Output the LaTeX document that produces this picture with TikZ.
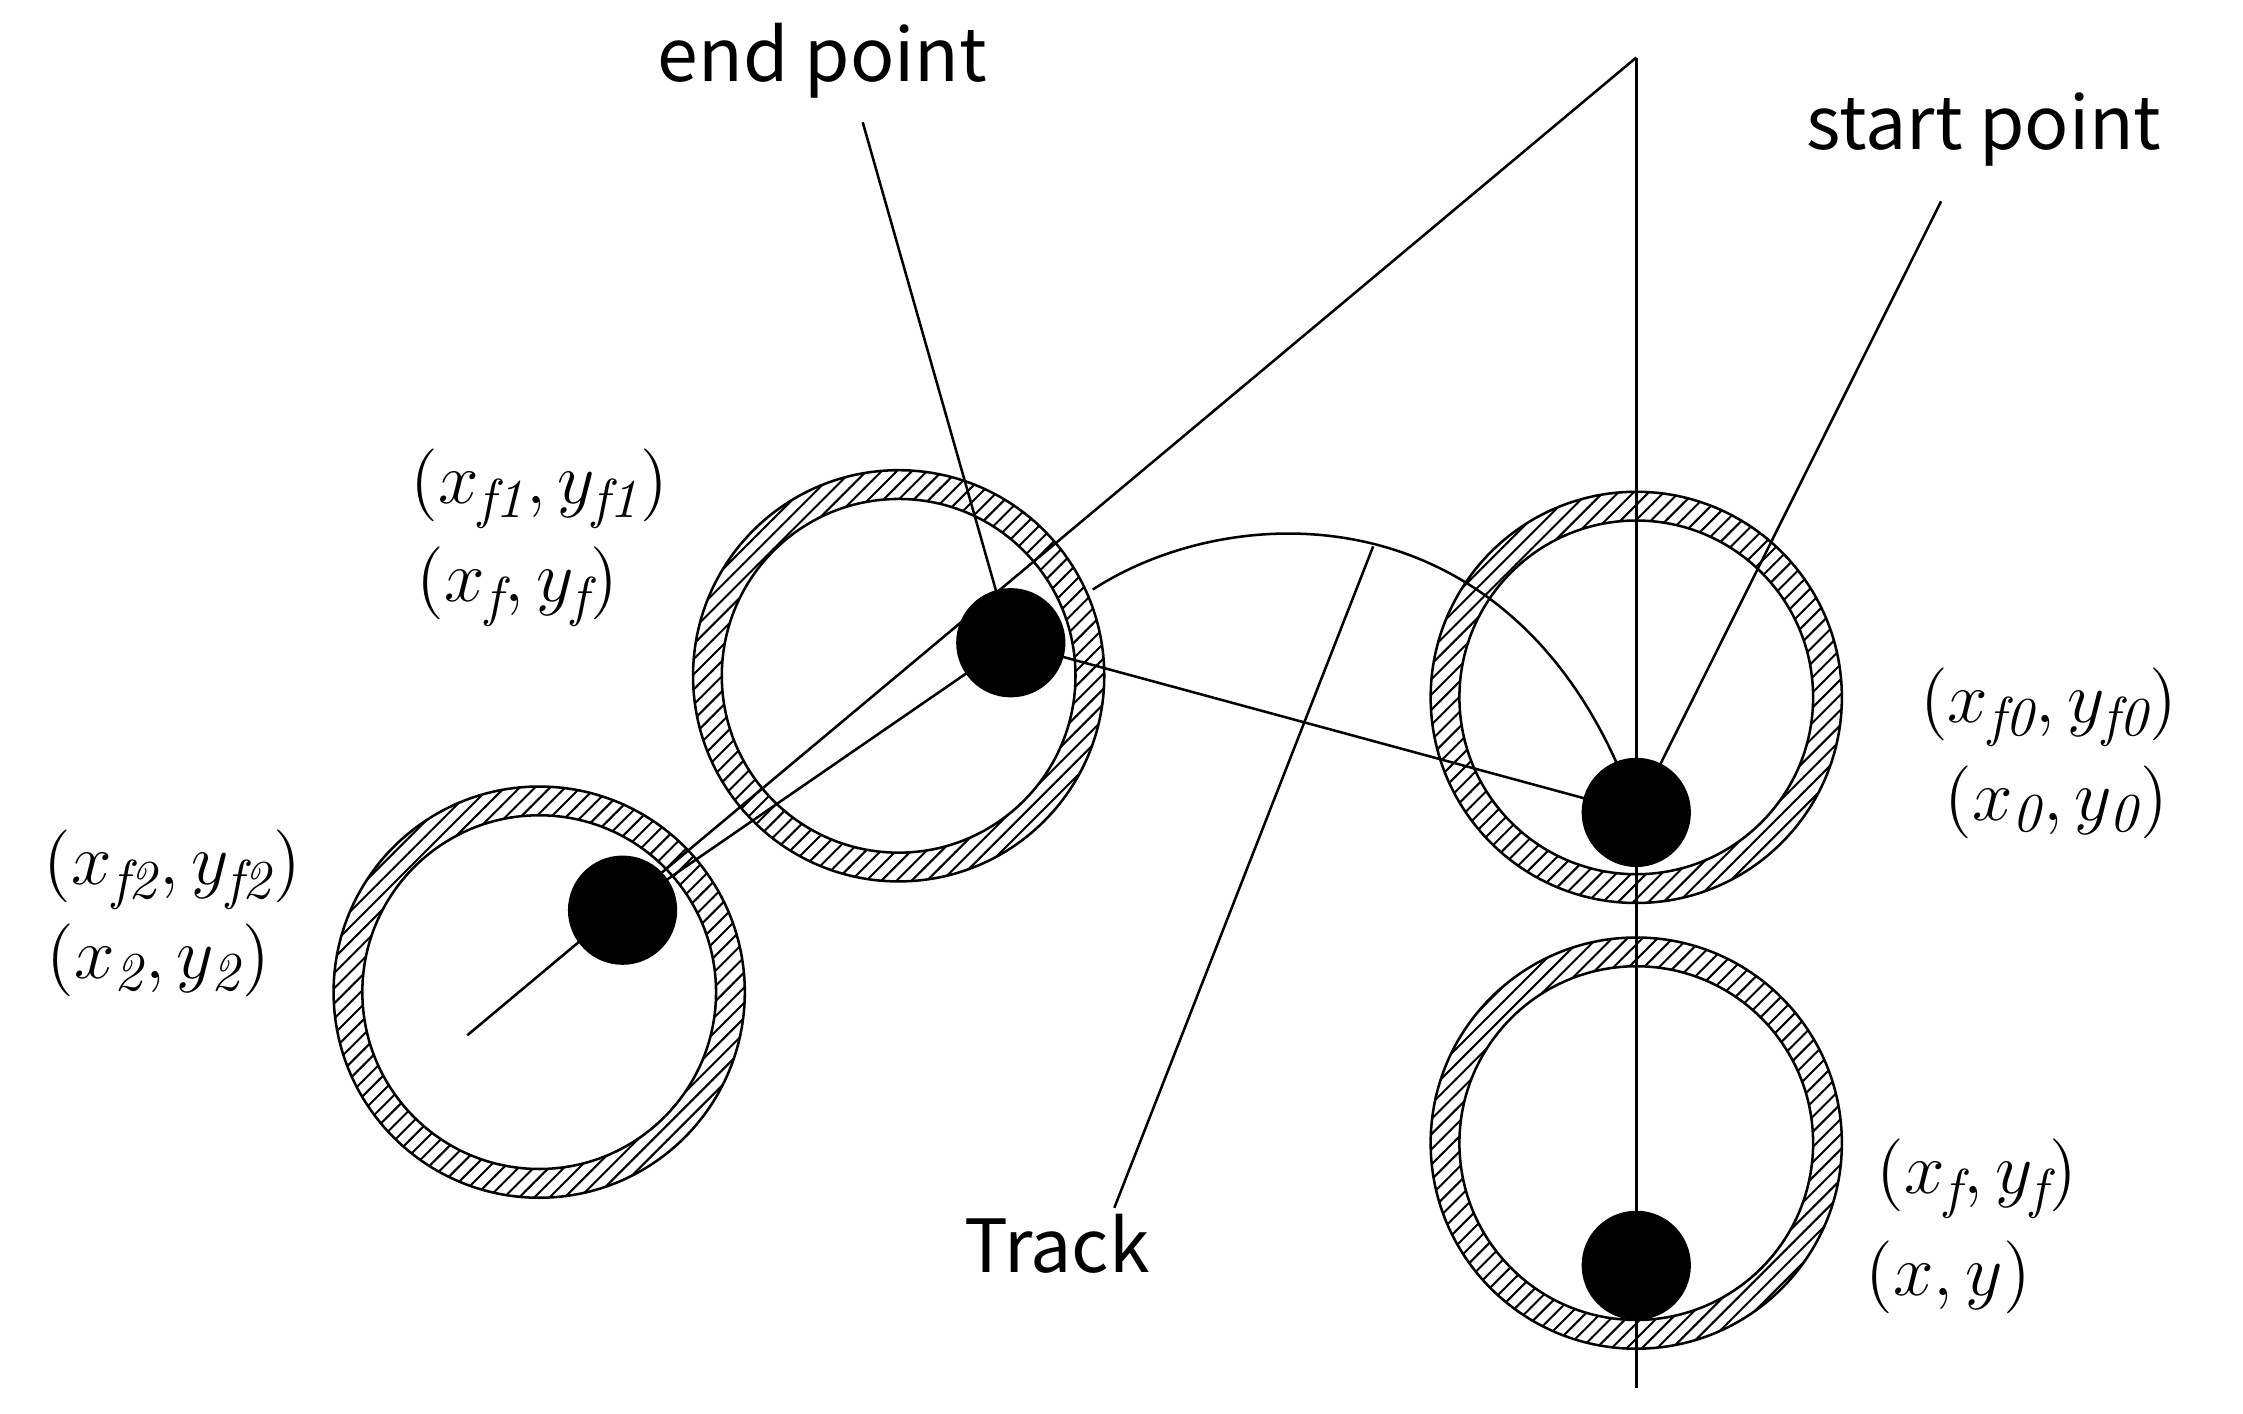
\documentclass[tikz,border=0pt]{standalone}
\usepackage{fontspec}
\newfontfamily\cjk{Noto Sans CJK SC}
\usetikzlibrary{patterns}
\tikzstyle{dot} = [circle, fill, minimum size=0.76cm, inner sep=0pt]
\tikzstyle{lbl} = [font=\cjk\fontsize{14.5}{17}\selectfont]
\tikzstyle{coord} = [font=\fontsize{15.5}{18}\selectfont, anchor=center]
\newcommand{\ring}[2]{%
  \fill[pattern=north east lines, even odd rule] (#1,#2) circle (1.43) (#1,#2) circle (1.23);
  \draw (#1,#2) circle (1.43) (#1,#2) circle (1.23);}
\begin{document}
\begin{tikzpicture}[line width=0.5pt]
\useasboundingbox (0,0) rectangle (15.6,-9.83);
% rings
\ring{3.75}{-6.90}
\ring{6.25}{-4.70}
\ring{11.38}{-4.85}
\ring{11.38}{-7.95}
% dots
\node[dot] (p2) at (4.33,-6.33) {};
\node[dot] (p1) at (7.03,-4.47) {};
\node[dot] (p0) at (11.38,-5.65) {};
\node[dot] (p) at (11.38,-8.80) {};
% lines
\coordinate (apex) at (11.38,-0.40);
\coordinate (bottom) at (11.38,-9.65);
\coordinate (tail) at (3.25,-7.20);
\draw (apex) -- (bottom);
\draw (tail) -- (apex);
\draw (p2.center) -- (p1.center) -- (p0.center);
\draw (7.60,-4.10) .. controls (8.6,-3.45) and (10.6,-3.4) .. (p0.center);
% labels
\node[lbl] (endl) at (5.72,-0.42) {end point};
\node[lbl] (startl) at (13.80,-0.90) {start point};
\node[lbl] (trackl) at (7.35,-8.65) {Track};
\draw (6.00,-0.85) -- (p1.center);
\draw (13.50,-1.40) -- (p0.center);
\draw (7.75,-8.40) -- (9.55,-3.80);
\node[coord] at (3.75,-3.40) {$(x_{\mathit{f1}},y_{\mathit{f1}})$};
\node[coord] at (3.60,-4.08) {$(x_{\mathit{f}},y_{\mathit{f}})$};
\node[coord] at (1.20,-6.05) {$(x_{\mathit{f2}},y_{\mathit{f2}})$};
\node[coord] at (1.10,-6.68) {$(x_{\mathit{2}},y_{\mathit{2}})$};
\node[coord] at (14.25,-4.92) {$(x_{\mathit{f0}},y_{\mathit{f0}})$};
\node[coord] at (14.30,-5.58) {$(x_{\mathit{0}},y_{\mathit{0}})$};
\node[coord] at (13.75,-8.20) {$(x_{\mathit{f}},y_{\mathit{f}})$};
\node[coord] at (13.55,-8.88) {$(x,y)$};
\end{tikzpicture}
\end{document}
